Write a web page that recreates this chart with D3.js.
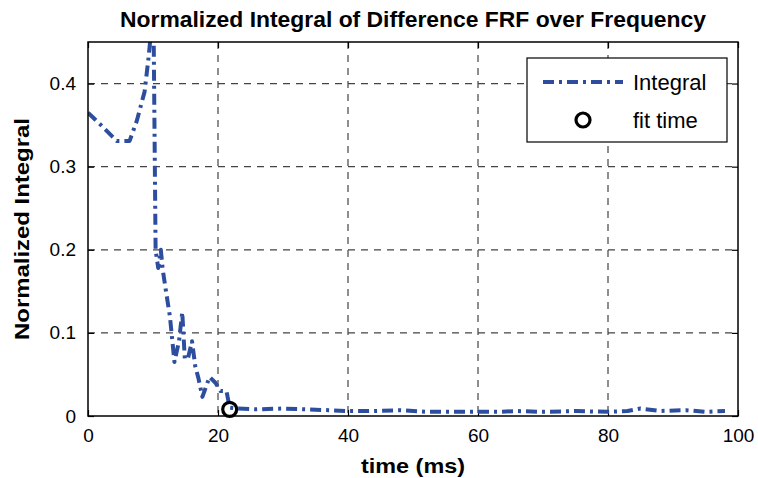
<!DOCTYPE html>
<html>
<head>
<meta charset="utf-8">
<script src="https://cdn.jsdelivr.net/npm/d3@7"></script>
<style>
  body { margin: 0; background: #fff; }
  svg { display: block; font-family: "Liberation Sans", Arial, sans-serif; }
</style>
</head>
<body>
<div id="chart"></div>
<script>
// time samples (ms) and normalized integral values
var times = [0, 2, 4.4, 6.4, 7.5, 8.7, 9.3, 9.8, 10.1, 10.4, 10.8, 11.2, 11.5, 12.0, 12.6, 13.3,
  14.0, 14.5, 14.9, 15.4, 16.0, 16.5, 17.0, 17.6, 18.7, 19.6, 20.4, 21.3, 21.8, 23, 26, 30, 33.5,
  37, 40, 44, 48, 52, 56, 60, 63, 66, 70, 75, 80, 83, 85, 88, 92, 95, 98];
var integral = [0.365, 0.35, 0.331, 0.331, 0.355, 0.39, 0.43, 0.47, 0.46, 0.2, 0.178, 0.2, 0.176, 0.15, 0.12, 0.065,
  0.09, 0.125, 0.068, 0.07, 0.09, 0.06, 0.045, 0.023, 0.047, 0.04, 0.03, 0.03, 0.01, 0.009, 0.008, 0.009, 0.008,
  0.007, 0.006, 0.006, 0.007, 0.005, 0.005, 0.005, 0.005, 0.006, 0.005, 0.006, 0.005, 0.006, 0.009, 0.006, 0.007, 0.005, 0.006];
var fitTime = [21.8];
var fitValue = [0.008];

var xTicks = [0, 20, 40, 60, 80, 100];
var yTicks = [0, 0.1, 0.2, 0.3, 0.4];

var W = 758, H = 478;
var margin = {top: 42, right: 20, bottom: 62, left: 88};
var width = W - margin.left - margin.right;
var height = H - margin.top - margin.bottom;
var blue = "#2d4e9e";

var svg = d3.select("#chart").append("svg")
  .attr("width", W).attr("height", H);

var x = d3.scaleLinear().domain([0, 100]).range([0, width]);
var y = d3.scaleLinear().domain([0, 0.45]).range([height, 0]);

var chart = svg.append("g")
  .attr("transform", "translate(" + margin.left + "," + margin.top + ")");

svg.append("defs").append("clipPath").attr("id", "plotclip")
  .append("rect").attr("width", width).attr("height", height);

// grid lines
chart.append("g").selectAll("line.gx")
  .data(xTicks.slice(1, -1)).enter().append("line")
  .attr("x1", d => x(d)).attr("x2", d => x(d))
  .attr("y1", 0).attr("y2", height)
  .attr("stroke", "#444").attr("stroke-width", 1.2)
  .attr("stroke-dasharray", "7,6");
chart.append("g").selectAll("line.gy")
  .data(yTicks.slice(1)).enter().append("line")
  .attr("x1", 0).attr("x2", width)
  .attr("y1", d => y(d)).attr("y2", d => y(d))
  .attr("stroke", "#444").attr("stroke-width", 1.2)
  .attr("stroke-dasharray", "7,6");

// axes with inward ticks
chart.append("g").attr("transform", "translate(0," + height + ")")
  .call(d3.axisBottom(x).tickValues(xTicks).tickSize(-6).tickPadding(13).tickFormat(d3.format("d")));
chart.append("g")
  .call(d3.axisLeft(y).tickValues(yTicks).tickSize(-6).tickPadding(12).tickFormat(d => d === 0 ? "0" : d3.format(".1f")(d)));
chart.append("g")
  .call(d3.axisTop(x).tickValues(xTicks).tickSize(-6).tickFormat(""));
chart.append("g").attr("transform", "translate(" + width + ",0)")
  .call(d3.axisRight(y).tickValues(yTicks).tickSize(-6).tickFormat(""));

chart.selectAll(".domain").remove();
chart.selectAll(".tick line").attr("stroke", "#000").attr("stroke-width", 1.2);
chart.selectAll(".tick text")
  .attr("font-size", 19).attr("fill", "#000")
  .attr("font-family", "'Liberation Sans', Arial, sans-serif");

// the curve
var line = d3.line().x((d, i) => x(times[i])).y(d => y(d));
chart.append("path")
  .datum(integral)
  .attr("clip-path", "url(#plotclip)")
  .attr("d", line)
  .attr("fill", "none")
  .attr("stroke", blue)
  .attr("stroke-width", 4)
  .attr("stroke-linejoin", "round")
  .attr("stroke-dasharray", "11,5,3,5");

// fit time marker
chart.selectAll("circle.fit")
  .data(fitTime).enter().append("circle")
  .attr("cx", d => x(d)).attr("cy", (d, i) => y(fitValue[i]))
  .attr("r", 7).attr("fill", "none").attr("stroke", "#000").attr("stroke-width", 3.2);

// plot frame
chart.append("rect")
  .attr("width", width).attr("height", height)
  .attr("fill", "none").attr("stroke", "#000").attr("stroke-width", 1.5);

// legend
var legend = chart.append("g").attr("transform", "translate(" + (527 - margin.left) + "," + (58 - margin.top) + ")");
legend.append("rect").attr("width", 200).attr("height", 84)
  .attr("fill", "#fff").attr("stroke", "#000").attr("stroke-width", 1.2);
legend.append("line").attr("x1", 16).attr("x2", 96).attr("y1", 24).attr("y2", 24)
  .attr("stroke", blue).attr("stroke-width", 4).attr("stroke-dasharray", "11,5,3,5");
legend.append("text").attr("x", 106).attr("y", 32).attr("font-size", 22).text("Integral");
legend.append("circle").attr("cx", 56).attr("cy", 62).attr("r", 7)
  .attr("fill", "none").attr("stroke", "#000").attr("stroke-width", 3.2);
legend.append("text").attr("x", 106).attr("y", 70).attr("font-size", 22).text("fit time");

// title and axis labels
svg.append("text")
  .attr("x", margin.left + width / 2).attr("y", 27)
  .attr("text-anchor", "middle").attr("font-weight", "bold").attr("font-size", 22)
  .attr("textLength", 586).attr("lengthAdjust", "spacingAndGlyphs")
  .text("Normalized Integral of Difference FRF over Frequency");
svg.append("text")
  .attr("x", margin.left + width / 2).attr("y", 473)
  .attr("text-anchor", "middle").attr("font-weight", "bold").attr("font-size", 21)
  .attr("textLength", 104).attr("lengthAdjust", "spacingAndGlyphs")
  .text("time (ms)");
svg.append("text")
  .attr("transform", "translate(29," + (margin.top + height / 2) + ") rotate(-90)")
  .attr("text-anchor", "middle").attr("font-weight", "bold").attr("font-size", 21)
  .attr("textLength", 222).attr("lengthAdjust", "spacingAndGlyphs")
  .text("Normalized Integral");
</script>
</body>
</html>
